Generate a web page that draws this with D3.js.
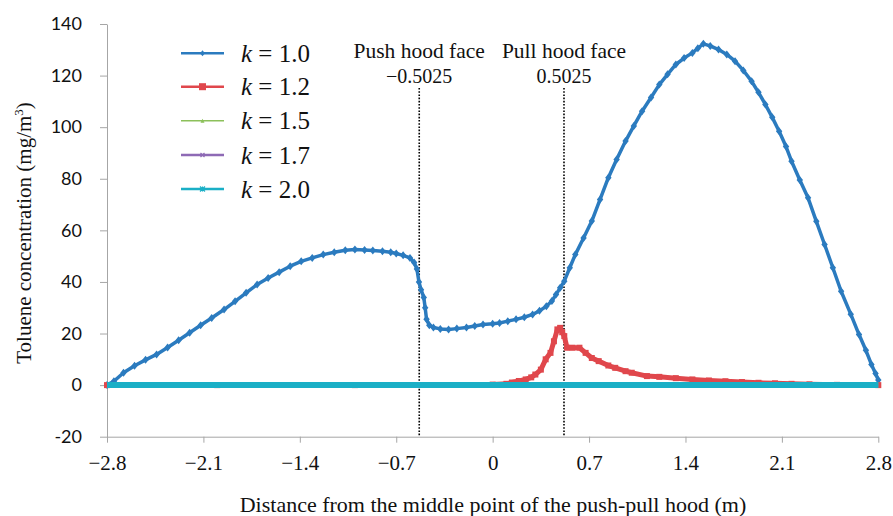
<!DOCTYPE html>
<html><head><meta charset="utf-8">
<script src="https://cdn.jsdelivr.net/npm/d3@7"></script>
<style>body{margin:0;background:#fff}svg{display:block}</style>
</head><body>
<svg id="c" width="893" height="516"></svg>
<script>
// ---- data ----
const k10x = [-2.80,-2.75,-2.68,-2.60,-2.52,-2.44,-2.36,-2.28,-2.20,-2.12,-2.04,-1.95,-1.87,-1.79,-1.71,-1.63,-1.55,-1.47,-1.39,-1.31,-1.23,-1.15,-1.07,-1.00,-0.93,-0.87,-0.80,-0.74,-0.70,-0.65,-0.60,-0.57,-0.55,-0.535,-0.52,-0.50,-0.49,-0.48,-0.46,-0.43,-0.38,-0.32,-0.26,-0.19,-0.13,-0.07,0.00,0.05,0.11,0.17,0.23,0.29,0.34,0.39,0.43,0.46,0.49,0.52,0.56,0.60,0.66,0.72,0.78,0.84,0.90,0.965,1.025,1.085,1.15,1.21,1.27,1.33,1.39,1.45,1.49,1.53,1.58,1.64,1.70,1.76,1.82,1.88,1.93,1.98,2.03,2.08,2.13,2.17,2.23,2.29,2.35,2.41,2.47,2.53,2.60,2.66,2.71,2.75,2.78,2.80];
const k10y = [0,1.5,4.8,7.5,9.8,11.9,14.6,17.4,20.3,23.2,26.0,29.3,32.5,35.8,39.0,41.5,43.8,46.1,48.0,49.3,50.6,51.5,52.3,52.6,52.4,52.2,51.9,51.5,51.0,50.3,49.3,47.5,45.0,40.0,37.0,34.0,30.0,25.5,23.2,22.3,21.8,21.6,21.9,22.3,22.9,23.5,23.8,24.1,24.8,25.5,26.3,27.4,28.8,30.6,32.6,35.1,37.7,40.3,45.5,50.6,57.0,63.6,72.0,80.4,87.5,94.6,100.5,106.2,111.5,116.5,120.5,124.3,126.8,128.8,130.6,132.3,131.5,130.1,128.2,125.6,122.0,117.8,113.5,108.8,103.8,98.4,92.5,86.8,79.5,72.6,63.5,54.5,45.5,36.4,27.5,19.6,13.5,8.0,4.5,2.0];
const k12x = [-2.80,-2.00,-1.00,0.00,0.10,0.14,0.19,0.24,0.28,0.31,0.35,0.385,0.42,0.445,0.47,0.49,0.505,0.52,0.54,0.58,0.63,0.675,0.72,0.77,0.84,0.89,0.965,1.01,1.12,1.21,1.33,1.45,1.57,1.69,1.81,1.93,2.05,2.17,2.30,2.50,2.80];
const k12y = [0,0,0,0.2,0.5,1.0,1.6,2.2,3.0,4.1,6.0,10.0,12.5,17.0,21.6,22.2,20.5,19.0,14.5,14.5,14.5,12.5,10.5,9.3,7.6,6.7,5.4,4.8,3.5,3.2,2.7,2.2,1.8,1.5,1.2,0.9,0.7,0.5,0.3,0.1,0];
const baseX = [-2.8,-2.4,-2.0,-1.6,-1.2,-0.8,-0.4,0,0.4,0.8,1.2,1.6,2.0,2.4,2.8];
const k15y = [0,0,0,0,0,0,0,0,0,0,0,0,0,0,0];
const k17y = [0,0,0,0,0,0,0,0,0,0,0,0,0,0,0];
const k20y = [0,0,0,0,0,0,0,0,0,0,0,0,0,0,0];
const seriesNames = ["1.0","1.2","1.5","1.7","2.0"];
const xTicks = [-2.8,-2.1,-1.4,-0.7,0,0.7,1.4,2.1,2.8];
const yTicks = [-20,0,20,40,60,80,100,120,140];
const hoodX = [-0.533, 0.518];
const hoodLabels = [["Push hood face","\u22120.5025"],["Pull hood face","0.5025"]];

// ---- drawing ----
const svg = d3.select("#c");
const x = d3.scaleLinear().domain([-2.8,2.8]).range([107,878.3]);
const y = d3.scaleLinear().domain([-20,140]).range([436.7,24]);
const axisCol = "#a6a6a6";
const serif = "'Liberation Serif','Times New Roman',serif";

// y axis
const ya = svg.append("g").attr("transform","translate(107,0)")
  .call(d3.axisLeft(y).tickValues(yTicks).tickSize(7).tickSizeOuter(0).tickPadding(18).tickFormat(d=>d));
ya.select(".domain").attr("stroke",axisCol);
ya.selectAll(".tick line").attr("stroke",axisCol);
ya.selectAll(".tick text").attr("font-family","Lato,'Open Sans',sans-serif").attr("font-size",18).attr("fill","#111");

// x axis
const xa = svg.append("g").attr("transform","translate(0,"+y(-20)+")")
  .call(d3.axisBottom(x).tickValues(xTicks).tickSize(6).tickSizeOuter(0)
    .tickFormat(d=> d===0 ? "0" : (d<0 ? "\u2212"+Math.abs(d).toFixed(1) : d.toFixed(1))));
xa.select(".domain").attr("stroke",axisCol);
xa.selectAll(".tick line").attr("stroke",axisCol);
xa.selectAll(".tick text").attr("font-family",serif).attr("font-size",21).attr("fill","#111").attr("dy",null).attr("y",33);

// axis titles
svg.append("text").attr("x",493).attr("y",512).attr("text-anchor","middle")
  .attr("font-family",serif).attr("font-size",22).attr("fill","#111")
  .text("Distance from the middle point of the push-pull hood (m)");
const yt = svg.append("text").attr("transform","translate(31,233) rotate(-90)").attr("text-anchor","middle")
  .attr("font-family",serif).attr("font-size",21).attr("fill","#111");
yt.append("tspan").text("Toluene concentration (mg/m");
yt.append("tspan").attr("font-size",13).attr("dy",-8).text("3");
yt.append("tspan").attr("dy",8).text(")");

// hood face lines
hoodX.forEach((h,i)=>{
  svg.append("line").attr("x1",x(h)).attr("x2",x(h)).attr("y1",88).attr("y2",y(-20))
    .attr("stroke","#000").attr("stroke-width",1.6).attr("stroke-dasharray","1.6,1.6");
  svg.append("text").attr("x",x(h)).attr("y",58).attr("text-anchor","middle")
    .attr("font-family",serif).attr("font-size",21.5).attr("fill","#111").text(hoodLabels[i][0]);
  svg.append("text").attr("x",x(h)).attr("y",83).attr("text-anchor","middle")
    .attr("font-family",serif).attr("font-size",20).attr("fill","#111").text(hoodLabels[i][1]);
});

const styles = [
  {c:"#2b7bbf", w:3.5, m:"diamond", ms:4},
  {c:"#e0474c", w:5, m:"square", ms:6},
  {c:"#8cc05a", w:5, m:"triangle", ms:5},
  {c:"#8e6ab5", w:5, m:"cross", ms:5},
  {c:"#1aafc6", w:6, m:"asterisk", ms:6}
];
const data = [
  k10x.map((v,i)=>[v,k10y[i]]),
  k12x.map((v,i)=>[v,k12y[i]]),
  baseX.map((v,i)=>[v,k15y[i]]),
  baseX.map((v,i)=>[v,k17y[i]]),
  baseX.map((v,i)=>[v,k20y[i]])
];
const line = d3.line().x(d=>x(d[0])).y(d=>y(d[1]));
function marker(g, type, cx, cy, s, c){
  if(type==="diamond") g.append("path").attr("d",`M${cx},${cy-s}L${cx+s*0.8},${cy}L${cx},${cy+s}L${cx-s*0.8},${cy}Z`).attr("fill",c);
  else if(type==="square") g.append("rect").attr("x",cx-s/2).attr("y",cy-s/2).attr("width",s).attr("height",s).attr("fill",c);
  else if(type==="triangle") g.append("path").attr("d",`M${cx},${cy-s/2}L${cx+s/2},${cy+s/2}L${cx-s/2},${cy+s/2}Z`).attr("fill",c);
  else if(type==="cross") g.append("path").attr("d",`M${cx-s/2},${cy-s/2}L${cx+s/2},${cy+s/2}M${cx+s/2},${cy-s/2}L${cx-s/2},${cy+s/2}`).attr("stroke",c).attr("stroke-width",1.2);
  else g.append("path").attr("d",`M${cx-s/2},${cy-s/2}L${cx+s/2},${cy+s/2}M${cx+s/2},${cy-s/2}L${cx-s/2},${cy+s/2}M${cx},${cy-s/2}L${cx},${cy+s/2}`).attr("stroke",c).attr("stroke-width",1.2);
}
const plot = svg.append("g");
[0,1,2,3,4].forEach(i=>{
  const st = styles[i];
  const g = plot.append("g");
  g.append("path").datum(data[i]).attr("d",line).attr("fill","none")
    .attr("stroke",st.c).attr("stroke-width",st.w).attr("stroke-linejoin","round");
  if(i<2) data[i].forEach(d=>marker(g, st.m, x(d[0]), y(d[1]), st.ms, st.c));
});

// legend
const legY = [53.3,86.7,120.7,155,189];
const legW = [2.5,2.5,1.5,2.5,2.5];
const legMs = [3,7,4,4,5];
seriesNames.forEach((n,i)=>{
  const g = svg.append("g");
  g.append("line").attr("x1",181).attr("x2",224).attr("y1",legY[i]).attr("y2",legY[i])
    .attr("stroke",styles[i].c).attr("stroke-width",legW[i]);
  marker(g, styles[i].m, 202.5, legY[i], legMs[i], styles[i].c);
  const t = g.append("text").attr("x",241).attr("y",legY[i]+8.5)
    .attr("font-family",serif).attr("font-size",25).attr("fill","#111");
  t.append("tspan").attr("font-style","italic").text("k");
  t.append("tspan").text(" = "+n);
});
</script>
</body></html>
